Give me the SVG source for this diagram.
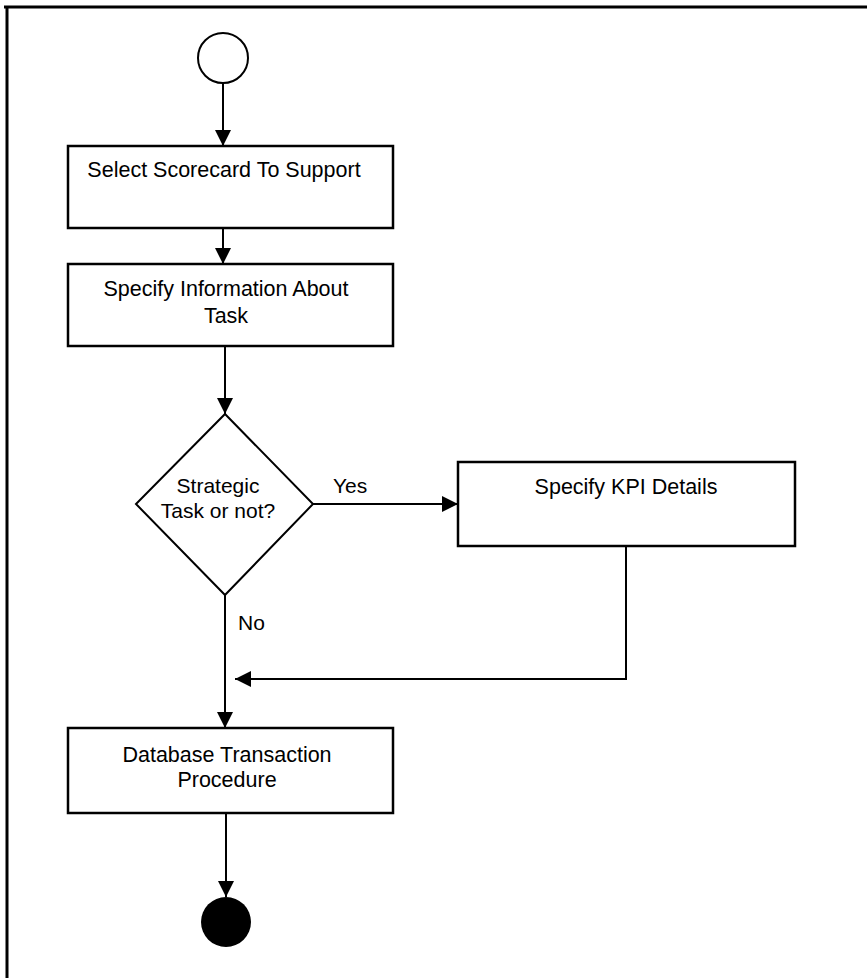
<svg xmlns="http://www.w3.org/2000/svg" width="867" height="978" viewBox="0 0 867 978">
<style>
.box{fill:#fff;stroke:#000;stroke-width:2.5}
.t{font-family:"Liberation Sans",Arial,sans-serif;font-size:21.5px;fill:#000;text-anchor:middle}
.d{font-family:"Liberation Sans",Arial,sans-serif;font-size:21px;fill:#000;text-anchor:middle}
.l{font-family:"Liberation Sans",Arial,sans-serif;font-size:21px;fill:#000}
.c{fill:none;stroke:#000;stroke-width:2}
</style>
<defs>
<marker id="ah" viewBox="0 0 10 10" refX="10" refY="5" markerUnits="userSpaceOnUse" markerWidth="16" markerHeight="16" orient="auto">
<path d="M0,0 L10,5 L0,10 z" fill="#000"/>
</marker>
</defs>
<rect width="867" height="978" fill="#fff"/>
<g id="frame">
<line x1="4" y1="7" x2="867" y2="7" stroke="#000" stroke-width="3"/>
<line x1="7" y1="6" x2="7" y2="978" stroke="#000" stroke-width="3"/>
</g>
<g id="connectors">
<line class="c" x1="223" y1="83" x2="223" y2="146" marker-end="url(#ah)"/>
<line class="c" x1="223" y1="228" x2="223" y2="264" marker-end="url(#ah)"/>
<line class="c" x1="225" y1="346" x2="225" y2="414" marker-end="url(#ah)"/>
<line class="c" x1="313" y1="504" x2="458" y2="504" marker-end="url(#ah)"/>
<line class="c" x1="225" y1="595" x2="225" y2="728" marker-end="url(#ah)"/>
<polyline class="c" points="626,546 626,679 235,679" marker-end="url(#ah)"/>
<line class="c" x1="226" y1="813" x2="226" y2="897" marker-end="url(#ah)"/>
<text class="l" x="333" y="493">Yes</text>
<text class="l" x="238" y="630">No</text>
</g>
<g id="start">
<circle cx="223" cy="58" r="25" fill="#fff" stroke="#000" stroke-width="2"/>
</g>
<g id="select">
<rect class="box" x="68" y="146" width="325" height="82"/>
<text class="t" x="224" y="177">Select Scorecard To Support</text>
</g>
<g id="specify-info">
<rect class="box" x="68" y="264" width="325" height="82"/>
<text class="t" x="226" y="296">Specify Information About</text>
<text class="t" x="226" y="323">Task</text>
</g>
<g id="decision">
<polygon points="225,414 313,504 225,595 136,504" fill="#fff" stroke="#000" stroke-width="2"/>
<text class="d" x="218" y="493">Strategic</text>
<text class="d" x="218" y="518">Task or not?</text>
</g>
<g id="kpi">
<rect class="box" x="458" y="462" width="337" height="84"/>
<text class="t" x="626" y="494">Specify KPI Details</text>
</g>
<g id="db">
<rect class="box" x="68" y="728" width="325" height="85"/>
<text class="t" x="227" y="762">Database Transaction</text>
<text class="t" x="227" y="787">Procedure</text>
</g>
<g id="end">
<circle cx="226" cy="922" r="25" fill="#000"/>
</g>
</svg>
